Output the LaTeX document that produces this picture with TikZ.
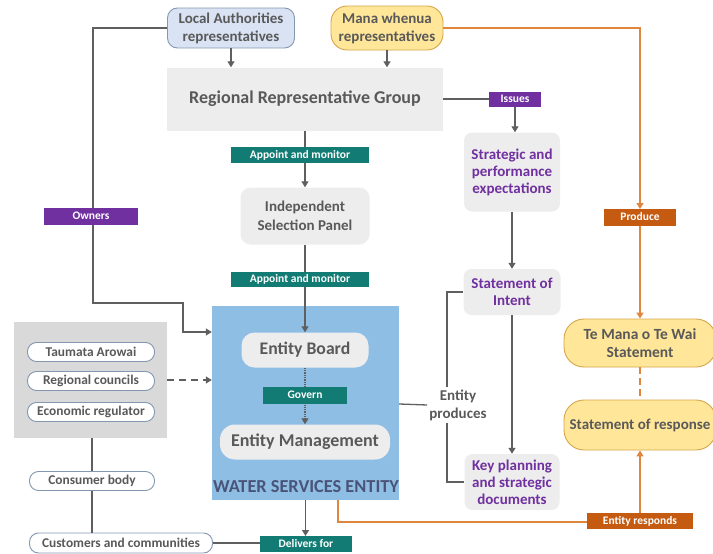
\documentclass[tikz,border=0pt]{standalone}
\usepackage{fontspec}
\setmainfont{Carlito}
\usetikzlibrary{arrows.meta}
\definecolor{lgray}{HTML}{EDEDED}
\definecolor{rgray}{HTML}{D9D9D9}
\definecolor{tgray}{HTML}{595959}
\definecolor{lgline}{HTML}{5F5F5F}
\definecolor{tealc}{HTML}{127B73}
\definecolor{purp}{HTML}{7030A0}
\definecolor{olab}{HTML}{C55A11}
\definecolor{oline}{HTML}{E0873F}
\definecolor{wsec}{HTML}{8FBEE4}
\definecolor{lafill}{HTML}{DAE3F3}
\definecolor{laline}{HTML}{8497B0}
\definecolor{mwfill}{HTML}{FFE699}
\definecolor{mwline}{HTML}{D6A64B}
\definecolor{wsetext}{HTML}{4A5478}
\begin{document}
\begin{tikzpicture}[x=1pt,y=-1pt,
  fs/.style 2 args={font=\bfseries\fontsize{#1}{#2}\selectfont},
  box/.style={rectangle, inner sep=1pt, align=center, text=tgray},
  gbox/.style={box, fill=lgray, rounded corners=8pt},
  pill/.style={box, draw=laline, fill=white, line width=0.9pt, rounded corners=9pt, minimum width=127pt, minimum height=19pt, fs={13.4}{16}},
  lab/.style={rectangle, inner sep=0pt, text=white, fs={11.5}{13}},
  tlab/.style={lab, fill=tealc},
  plab/.style={lab, fill=purp},
  olabs/.style={lab, fill=olab},
  ln/.style={draw=lgline, line width=1.3pt},
  ol/.style={draw=oline, line width=1.6pt},
  arr/.style={-{Triangle[length=6pt,width=7pt]}},
]
\useasboundingbox (0,0) rectangle (713,554);

% nodes
\node[box, fill=lafill, draw=laline, line width=0.9pt, rounded corners=10pt, minimum width=127pt, minimum height=40pt, fs={15}{18}, text=tgray] (la) at (231,28) {Local Authorities\\representatives};
\node[box, fill=mwfill, draw=mwline, line width=0.9pt, rounded corners=16pt, minimum width=112pt, minimum height=44pt, fs={15}{18}, text=tgray] (mw) at (387,28) {Mana whenua\\representatives};
\node[box, fill=lgray, minimum width=276pt, minimum height=63pt, fs={18}{21}] (rrg) at (305,99) {Regional Representative Group};
\node[gbox, rounded corners=10pt, minimum width=129pt, minimum height=57pt, fs={15}{19}] (isp) at (305,216) {Independent\\Selection Panel};
\node[gbox, minimum width=96pt, minimum height=79pt, fs={15}{17}, text=purp] (strat) at (512,172) {Strategic and\\performance\\expectations};
\node[gbox, minimum width=97pt, minimum height=46pt, fs={15}{17}, text=purp] (soi) at (512,292) {Statement of\\Intent};
\node[gbox, minimum width=95pt, minimum height=56pt, fs={15}{17}, text=purp] (key) at (512,482) {Key planning\\and strategic\\documents};

\node[rectangle, fill=wsec, minimum width=187pt, minimum height=194pt] (wse) at (305.5,403) {};
\node[box, text=wsetext, fs={18.3}{20}] (wsel) at (306,487) {WATER SERVICES ENTITY};
\node[box, fill=lgray, rounded corners=13pt, minimum width=127pt, minimum height=35pt, fs={17.7}{20}] (eb) at (305,350) {Entity Board};
\node[box, fill=lgray, rounded corners=15pt, minimum width=170pt, minimum height=35pt, fs={18}{20}] (em) at (305,442) {Entity Management};

\node[rectangle, fill=rgray, minimum width=153pt, minimum height=116pt] (reg) at (90.5,380) {};
\node[pill] (ta) at (91,352) {Taumata Arowai};
\node[pill] (rc) at (91,381) {Regional councils};
\node[pill] (ecr) at (91,412) {Economic regulator};
\node[pill, minimum width=125pt] (cb) at (92,481) {Consumer body};
\node[pill, minimum width=183pt, minimum height=20pt] (cc) at (121,543) {Customers and communities};

\node[box, fill=mwfill, draw=mwline, line width=0.9pt, rounded corners=20pt, minimum width=152pt, minimum height=48pt, fs={15.5}{18}, text=tgray] (tm) at (640,343) {Te Mana o Te Wai\\Statement};
\node[box, fill=mwfill, draw=mwline, line width=0.9pt, rounded corners=20pt, minimum width=152pt, minimum height=50pt, fs={15}{18}, text=tgray] (sor) at (640,425) {Statement of response};

\node[box, fs={15}{18}, inner sep=2pt] (ep) at (458,405) {Entity\\produces};
\coordinate (bx) at (447,0);

% connectors
\draw[ln,arr] (la.west) -- (93,28) -- (93,303) -- (183,303) -- (183,332) -- (wse.west |- 0,332);
\draw[ln,arr] (la.south) -- (la.south |- rrg.north);
\draw[ln,arr] (mw.south) -- (mw.south |- rrg.north);
\draw[ln,arr] (rrg.south -| isp.north) -- (isp.north);
\draw[ln,arr] (isp.south) -- (eb.north);
\draw[ln,arr,densely dotted] (eb.south) -- (em.north);
\draw[ln,arr] (wse.south) -- (305.5,536);
\draw[ln] (cc.east) -- (260,543);
\draw[ln] (reg.south -| cb.north) -- (cb.north);
\draw[ln] (cb.south) -- (cb.south |- cc.north);
\draw[ln,arr,dash pattern=on 7pt off 5pt] (reg.east |- 0,380) -- (wse.west |- 0,380);
\draw[ln] (rrg.east) -- (489,99);
\draw[ln,arr] (515,107) -- (strat.north -| 515,0);
\draw[ln,arr] (strat.south) -- (soi.north);
\draw[ln,arr] (soi.south) -- (key.north);
\draw[ln] (soi.west) -| (bx |- ep.north);
\draw[ln] (bx |- ep.south) |- (key.west);
\draw[ln] (wse.east |- 0,404) -- (ep.west);

\draw[ol,arr] (mw.east) -| (640,209);
\draw[ol,arr] (640,226) -- (tm.north);
\draw[ol,dash pattern=on 7pt off 4pt] (tm.south) -- (sor.north);
\draw[ol] (338,500) -- (338,522) -- (587,522);
\draw[ol,arr] (640,513) -- (sor.south);

% labels
\node[tlab, minimum width=138pt, minimum height=16pt] (am1) at (300,155) {Appoint and monitor};
\node[tlab, minimum width=138pt, minimum height=15pt] (am2) at (300,279) {Appoint and monitor};
\node[tlab, minimum width=84pt, minimum height=17pt] (gov) at (305,395) {Govern};
\node[tlab, minimum width=92pt, minimum height=16pt] (df) at (306,544) {Delivers for};
\node[plab, minimum width=94pt, minimum height=17pt] (own) at (91,216) {Owners};
\node[plab, minimum width=52pt, minimum height=15pt] (iss) at (515,99) {Issues};
\node[olabs, minimum width=72pt, minimum height=17pt] (prod) at (640,217) {Produce};
\node[olabs, minimum width=106pt, minimum height=16pt] (er) at (640,521) {Entity responds};
\end{tikzpicture}
\end{document}
